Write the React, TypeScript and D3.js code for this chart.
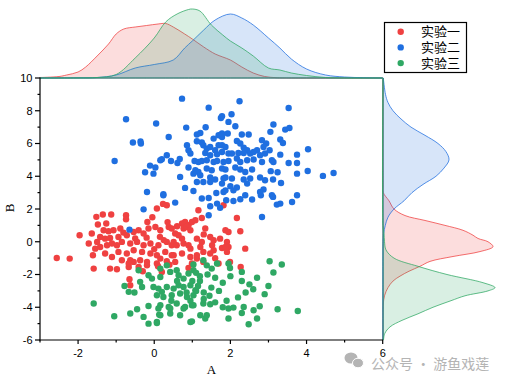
import React from "react";
import * as d3 from "d3";

// ---------- data ----------
const seriesNames = ["实验一", "实验二", "实验三"];
const seriesColors = ["#EF4141", "#1F6FE0", "#2FA864"];

const xTicks = [-2, 0, 2, 4, 6];
const xMinor = [-3, -1, 1, 3, 5];
const yTicks = [-6, -4, -2, 0, 2, 4, 6, 8, 10];
const yMinor = [-5, -3, -1, 1, 3, 5, 7, 9];

const redPoints: [number, number][] = [
  [-2.56,-0.99],[-2.22,-1.03],[-1.96,0.40],[-1.52,1.52],[-1.35,1.66],[-1.13,1.66],[-0.74,1.62],[-0.74,1.37],[-1.48,1.05],[-1.26,1.11],
  [-0.18,1.21],[0.07,2.03],[0.23,2.31],[0.33,2.23],[-1.64,0.50],[-1.72,-0.11],[-1.50,-0.01],[-1.33,0.70],[-1.20,0.64],[-1.07,0.70],
  [-1.42,0.29],[-1.29,0.19],[-1.16,0.23],[-0.89,0.81],[-0.81,0.56],[-0.94,0.29],[-0.72,0.40],[-0.54,0.60],[-0.41,0.70],[-0.28,0.50],
  [-0.15,0.81],[0.03,0.90],[0.16,0.70],[0.38,0.90],[-1.55,-0.42],[-1.42,-0.32],[-1.24,-0.21],[-1.11,-0.11],[-0.98,-0.21],[-0.85,-0.01],
  [-0.63,-0.11],[-0.45,-0.01],[-0.28,-0.21],[-0.10,-0.11],[0.11,-0.21],[0.33,-0.01],[0.46,-0.21],[-1.61,-0.82],[-1.29,-0.72],[-1.11,-0.93],
  [-0.94,-0.62],[-0.72,-0.72],[-0.54,-0.52],[-0.32,-0.62],[-0.10,-0.72],[0.07,-0.82],[0.29,-0.62],[0.46,-0.82],[-1.59,-1.64],[-1.16,-1.64],
  [-0.98,-1.68],[-0.67,-1.54],[-0.63,-1.13],[-0.85,-1.13],[-0.19,-1.44],[0.07,-1.33],[-0.54,-1.23],[-0.37,-1.13],[-0.65,-2.29],[-0.63,-2.66],
  [-0.67,-1.33],[-0.41,-1.54],[-0.19,-1.23],[0.16,-1.03],[0.33,-1.19],[0.55,-1.23],[1.12,-1.03],
  [1.82,2.23],[1.16,1.92],[1.25,1.45],[2.17,1.45],[0.73,1.11],[0.81,1.21],[0.90,1.01],[0.99,1.21],[1.08,1.31],[0.77,0.81],
  [0.86,0.90],[0.95,0.70],[1.34,0.81],[1.87,0.70],[1.95,0.60],[2.26,0.64],[0.46,0.81],[0.55,0.50],[0.64,0.40],[0.73,0.19],
  [1.12,0.19],[1.25,-0.01],[1.47,0.29],[1.56,0.09],[1.73,0.19],[1.91,-0.01],[1.95,-0.32],[0.51,-0.01],[0.59,-0.21],[0.77,-0.11],
  [0.90,-0.21],[0.95,-0.42],[1.21,-0.32],[1.52,-0.21],[1.56,-0.52],[1.78,-0.38],[1.87,-0.32],[2.39,-0.42],[0.51,-0.82],[0.73,-0.72],
  [0.95,-0.93],[1.12,-0.82],[1.29,-0.62],[1.47,-0.72],[1.91,-0.62],[0.99,-1.33],[1.29,-1.23],[1.69,-1.33],[1.99,-1.23],[2.27,-1.54],
  [-0.2,0.25],[0.15,0.3],[0.0,-0.45],[-0.5,0.2],[0.25,0.1],[0.6,0.95],[0.35,1.2],[-0.05,1.5],[0.1,-1.5],[0.4,-1.4],
  [1.3,0.45],[0.9,-1.6],[1.6,-1.0],[0.2,-1.85],[-0.3,-1.8],
];

const bluePoints: [number, number][] = [
  [0.73,8.74],[1.43,8.19],[-0.74,7.48],[0.05,7.22],[1.75,7.56],[0.84,6.97],[1.35,6.99],[-0.56,6.06],[-0.36,6.12],[-0.35,6.0],
  [0.38,6.40],[-1.04,4.93],[1.12,6.55],[1.21,6.64],[1.12,6.14],[0.86,5.89],[1.25,6.06],[1.56,6.30],[1.69,6.50],[1.78,6.40],
  [0.90,5.59],[0.95,5.39],[1.29,5.89],[1.38,5.69],[1.47,5.79],[1.60,5.59],[1.69,5.89],[1.34,5.42],[1.47,5.28],[1.65,5.34],
  [1.78,5.48],[0.33,5.28],[0.20,5.04],[0.16,4.98],[0.44,4.93],[0.67,5.06],[0.61,4.81],[-0.11,4.65],[0.03,4.53],[-0.24,4.24],
  [-0.02,4.16],[1.06,4.93],[1.16,4.87],[1.25,4.93],[1.38,4.98],[1.56,4.87],[1.65,4.93],[1.82,4.87],[0.90,4.53],[1.08,4.37],
  [1.16,4.26],[1.03,4.16],[1.21,4.06],[1.38,4.47],[1.51,4.37],[0.68,3.96],[1.47,3.92],[1.60,3.80],[1.82,3.86],[1.12,3.65],
  [1.29,3.65],[1.47,3.65],[1.78,3.55],[0.81,3.29],[1.03,3.10],[-0.19,3.04],[0.24,2.90],[1.63,2.98],[1.82,3.04],
  [-0.28,1.98],[0.24,2.84],[-0.65,0.74],[0.55,2.39],[1.25,2.64],[1.43,2.67],[1.65,2.33],[1.73,2.07],[1.47,2.17],[1.89,2.53],
  [2.08,2.49],[2.26,2.60],[2.57,2.58],[2.80,2.84],[1.43,1.62],[2.83,1.51],[3.12,2.74],[3.22,2.27],[3.31,2.33],[3.62,2.43],
  [2.24,8.58],[3.53,8.17],[1.78,7.66],[2.03,7.79],[1.95,7.32],[2.13,7.05],[3.13,7.16],[3.05,6.71],[3.44,6.85],[3.55,6.95],
  [1.78,6.61],[1.93,6.61],[2.30,6.55],[2.48,6.55],[3.31,6.24],[3.38,6.03],[2.17,6.15],[2.26,6.0],[1.78,5.89],[1.87,5.79],
  [2.83,6.2],[2.94,6.0],[2.87,5.79],[3.03,5.59],[4.04,5.65],[2.35,5.75],[2.44,5.59],[2.70,5.59],[2.78,5.28],[2.91,5.39],
  [1.95,5.39],[2.04,5.39],[2.21,5.42],[2.35,5.42],[2.52,5.39],[2.61,5.48],[3.31,5.32],[3.75,5.32],[3.75,4.81],[3.53,4.81],
  [1.95,4.93],[2.17,5.08],[2.26,4.87],[2.44,4.98],[2.61,5.02],[2.83,4.87],[3.09,4.98],[3.13,4.87],[1.78,4.47],[1.87,4.41],
  [2.13,4.53],[2.26,4.41],[2.39,4.26],[2.57,4.41],[3.06,4.31],[3.24,4.24],[4.03,4.32],[3.75,4.16],[4.43,4.02],[4.71,4.20],
  [1.87,3.92],[2.04,3.86],[2.35,3.80],[2.52,3.86],[2.78,3.92],[2.91,3.76],[3.12,3.80],[3.33,3.59],[2.0,3.39],[2.17,3.31],
  [2.44,3.55],[2.87,3.19],[2.78,3.04],[1.87,3.14],[2.08,3.14],[2.39,2.84],[3.09,2.84],[3.75,2.84],
];

const greenPoints: [number, number][] = [
  [-1.59,-3.77],[-1.05,-4.55],[-0.78,-2.70],[-0.67,-3.06],[-0.52,-3.10],[-0.63,-4.38],[-0.45,-4.12],[-0.28,-4.59],[-0.15,-3.92],[-0.15,-5.0],
  [0.07,-4.90],[0.13,-4.45],[-0.41,-1.74],[-0.37,-2.45],[-0.32,-2.76],[-0.15,-2.05],[-0.06,-2.25],[0.16,-1.64],[0.16,-2.15],[0.33,-1.44],
  [0.42,-1.84],[0.64,-2.05],[0.77,-2.25],[0.90,-1.94],[1.03,-1.74],[-0.02,-2.76],[0.11,-2.86],[0.20,-3.06],[0.33,-2.76],[0.51,-2.86],
  [0.64,-2.66],[0.77,-2.76],[0.95,-2.66],[1.08,-2.96],[0.07,-3.27],[0.24,-3.37],[0.46,-3.27],[0.68,-3.16],[0.86,-3.37],[1.03,-3.27],
  [0.16,-3.88],[0.38,-3.98],[0.59,-3.77],[0.81,-3.98],[0.99,-3.88],[0.11,-4.08],[0.42,-4.38],[0.95,-4.90],[0.68,-4.49],
  [3.03,-1.19],[3.35,-1.39],[0.59,-1.74],[1.03,-1.39],[1.29,-1.13],[1.38,-1.44],[1.51,-1.64],[1.65,-1.33],[1.95,-1.33],[1.99,-1.60],
  [2.30,-1.84],[3.13,-1.88],
  [0.07,-4.96],[0.99,-4.86],[0.16,-4.49],[0.42,-4.08],[0.77,-4.08],[1.03,-3.88],[1.29,-3.77],[1.47,-3.82],[1.21,-4.49],[1.34,-4.69],
  [1.38,-4.49],[1.95,-4.08],[2.08,-4.02],[1.95,-4.69],[2.35,-3.98],[2.30,-4.35],[2.61,-4.18],[2.70,-4.69],[2.77,-3.94],[2.48,-5.04],
  [3.24,-4.12],[3.77,-4.23],
  [2.0,-2.1],[2.3,-2.4],[2.5,-2.6],[2.6,-2.9],[2.9,-3.2],[2.2,-3.4],[1.8,-2.5],[1.6,-2.2],[1.5,-2.8],[1.7,-3.0],
  [1.9,-3.6],[2.4,-3.1],[3.0,-2.7],[2.7,-2.2],[1.4,-2.0],[1.2,-2.4],[1.3,-3.5],[1.6,-3.7],[1.1,-3.0],[1.8,-4.0],
  [1.2,-2.1],[1.0,-2.4],[1.15,-2.7],[0.85,-3.1],[1.3,-3.1],[0.95,-3.6],[1.45,-3.3],[0.6,-2.4],[0.45,-3.6],[1.1,-1.9],
];

// marginal densities (value along axis, relative density)
const redDensityX: [number, number][] = [
  [-3,0.005],[-2.5,0.015],[-2.3,0.03],[-2.0,0.06],[-1.8,0.11],[-1.5,0.22],[-1.2,0.34],[-1.0,0.44],[-0.8,0.49],[-0.5,0.51],
  [-0.2,0.525],[0.1,0.54],[0.3,0.545],[0.5,0.51],[0.8,0.44],[1.0,0.39],[1.3,0.31],[1.6,0.24],[1.8,0.21],[2.0,0.18],
  [2.3,0.11],[2.6,0.05],[2.9,0.015],[3.2,0.003],[3.6,0],[6,0],
];
const blueDensityX: [number, number][] = [
  [-3,0],[-2,0.002],[-1.5,0.005],[-1.0,0.03],[-0.5,0.1],[0,0.135],[0.5,0.18],[0.8,0.3],[1.0,0.37],[1.3,0.48],
  [1.6,0.58],[2.0,0.64],[2.3,0.6],[2.6,0.53],[3.0,0.4],[3.3,0.3],[3.6,0.19],[4.0,0.09],[4.5,0.03],[5.0,0.01],
  [5.5,0.003],[6,0],
];
const greenDensityX: [number, number][] = [
  [-3,0],[-2,0.001],[-1.5,0.005],[-1.0,0.035],[-0.5,0.2],[0,0.4],[0.3,0.56],[0.6,0.64],[0.9,0.685],[1.0,0.69],
  [1.2,0.67],[1.5,0.53],[1.8,0.43],[2.0,0.37],[2.3,0.3],[2.6,0.22],[3.0,0.1],[3.3,0.08],[3.6,0.05],[4.0,0.025],
  [4.5,0.005],[5,0],[6,0],
];
const redDensityY: [number, number][] = [
  [10,0],[3.5,0],[3.0,0.003],[2.5,0.06],[2.0,0.11],[1.6,0.22],[1.3,0.42],[1.0,0.62],[0.7,0.8],[0.4,0.9],
  [0.2,0.95],[0,1.05],[-0.3,1.1],[-0.6,0.97],[-0.9,0.7],[-1.2,0.47],[-1.5,0.37],[-1.8,0.26],[-2.1,0.17],[-2.4,0.1],
  [-2.8,0.05],[-3.3,0.015],[-3.8,0.003],[-4.5,0],[-6,0],
];
const blueDensityY: [number, number][] = [
  [10,0.003],[9,0.025],[8.5,0.05],[8,0.1],[7.5,0.18],[7,0.28],[6.5,0.42],[6,0.55],[5.5,0.63],[5.0,0.66],
  [4.5,0.61],[4.0,0.53],[3.5,0.4],[3.0,0.29],[2.5,0.21],[2.0,0.11],[1.5,0.05],[1.0,0.023],[0.5,0.007],[0,0.002],
  [-1,0],[-6,0],
];
const greenDensityY: [number, number][] = [
  [10,0],[1,0],[0.5,0.01],[0,0.015],[-0.5,0.03],[-1.0,0.11],[-1.5,0.35],[-2.0,0.64],[-2.5,1.0],[-2.8,1.12],
  [-3.0,1.05],[-3.3,0.82],[-3.6,0.68],[-4.0,0.5],[-4.4,0.35],[-4.8,0.19],[-5.2,0.07],[-5.6,0.018],[-6,0.005],
];

const pointSets = [redPoints, bluePoints, greenPoints];
const densX = [redDensityX, blueDensityX, greenDensityX];
const densY = [redDensityY, blueDensityY, greenDensityY];

export default function App() {
  const W = 508, H = 382;
  const x = d3.scaleLinear().domain([-3, 6]).range([40, 382.7]);
  const y = d3.scaleLinear().domain([-6, 10]).range([340, 78]);
  const topY = d3.scaleLinear().domain([0, 1]).range([78, -22]);
  const rightX = d3.scaleLinear().domain([0, 1]).range([383, 483]);

  const topArea = d3.area<[number, number]>()
    .x(d => x(d[0])).y0(topY(0)).y1(d => topY(d[1]))
    .curve(d3.curveCatmullRom);
  const rightArea = d3.area<[number, number]>()
    .y(d => y(d[0])).x0(rightX(0)).x1(d => rightX(d[1]))
    .curve(d3.curveCatmullRom);

  const tickFont = "'Liberation Sans', Arial, sans-serif";
  const serif = "'Liberation Serif', 'Times New Roman', serif";
  const cjk = "'Noto Sans CJK SC', sans-serif";

  return (
    <svg width={W} height={H} style={{ position: "fixed", left: 0, top: 0, background: "#fff" }}>
      <rect x={0} y={0} width={W} height={H} fill="#fff" />
      {/* top marginal densities */}
      {densX.map((d, i) => (
        <path key={"tx" + i} d={topArea(d) || ""} fill={seriesColors[i]} fillOpacity={0.18}
          stroke={seriesColors[i]} strokeWidth={0.9} strokeOpacity={0.85} />
      ))}
      {/* right marginal densities */}
      {densY.map((d, i) => (
        <path key={"ry" + i} d={rightArea(d) || ""} fill={seriesColors[i]} fillOpacity={0.18}
          stroke={seriesColors[i]} strokeWidth={0.9} strokeOpacity={0.85} />
      ))}

      {/* scatter */}
      {pointSets.map((pts, i) => (
        <g key={"p" + i} fill={seriesColors[i]}>
          {pts.map((p, j) => (
            <circle key={j} cx={x(p[0])} cy={y(p[1])} r={3.2} />
          ))}
        </g>
      ))}

      {/* axes */}
      <g stroke="#000" strokeWidth={1.2}>
        <line x1={40} y1={77.5} x2={40} y2={340.5} />
        <line x1={39.5} y1={340} x2={383} y2={340} />
        {yTicks.map(t => <line key={"yt" + t} x1={35} x2={40} y1={y(t)} y2={y(t)} />)}
        {yMinor.map(t => <line key={"ym" + t} x1={37.5} x2={40} y1={y(t)} y2={y(t)} />)}
        {xTicks.map(t => <line key={"xt" + t} x1={x(t)} x2={x(t)} y1={340} y2={344} />)}
        {xMinor.map(t => <line key={"xm" + t} x1={x(t)} x2={x(t)} y1={340} y2={342.5} />)}
      </g>
      <g fontFamily={tickFont} fontSize={11} fill="#000">
        {yTicks.map(t => (
          <text key={"yl" + t} x={32.5} y={y(t)} dy="0.35em" textAnchor="end">{t}</text>
        ))}
        {xTicks.map(t => (
          <text key={"xl" + t} x={x(t)} y={357} textAnchor="middle">{t}</text>
        ))}
      </g>
      <text x={211.5} y={374} textAnchor="middle" fontFamily={serif} fontSize={13}>A</text>
      <text transform={`translate(14,208) rotate(-90)`} textAnchor="middle" fontFamily={serif} fontSize={13}>B</text>

      {/* legend */}
      <rect x={384.5} y={22.5} width={82} height={50} fill="#fff" stroke="#000" strokeWidth={1.2} />
      {seriesNames.map((n, i) => (
        <g key={"lg" + i}>
          <circle cx={400.7} cy={31.7 + i * 15.7} r={3.2} fill={seriesColors[i]} />
          <text x={421} y={31.7 + i * 15.7} dy="0.36em" fontFamily={cjk} fontSize={13} fill="#000">{n}</text>
        </g>
      ))}

      {/* watermark */}
      <g fill="#b4b4b4">
        <ellipse cx={351} cy={358} rx={6.5} ry={5.5} />
        <ellipse cx={358} cy={363} rx={5.5} ry={4.8} stroke="#fff" strokeWidth={1} />
      </g>
      <text x={371} y={364} dy="0.35em" fontFamily={cjk} fontSize={14} fill="#b4b4b4">公众号 · 游鱼戏莲</text>
    </svg>
  );
}
